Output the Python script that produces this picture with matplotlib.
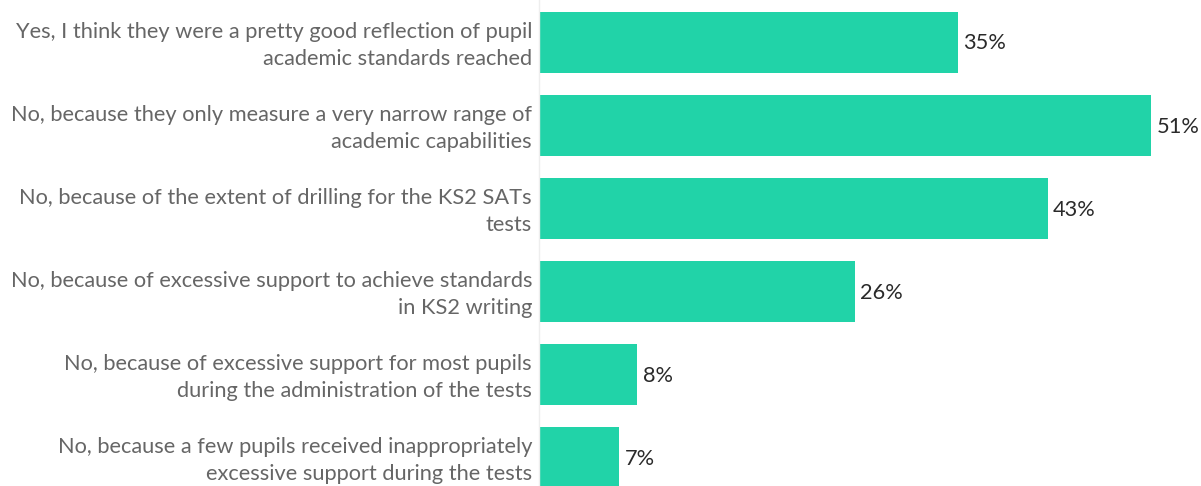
import matplotlib
matplotlib.use("Agg")
import matplotlib.pyplot as plt
from matplotlib.transforms import ScaledTranslation

categories = [
    "Yes, I think they were a pretty good reflection of pupil\nacademic standards reached",
    "No, because they only measure a very narrow range of\nacademic capabilities",
    "No, because of the extent of drilling for the KS2 SATs\ntests",
    "No, because of excessive support to achieve standards\nin KS2 writing",
    "No, because of excessive support for most pupils\nduring the administration of the tests",
    "No, because a few pupils received inappropriately\nexcessive support during the tests",
]
values = [34.9, 51.0, 42.4, 26.3, 8.2, 6.7]
value_labels = ["35%", "51%", "43%", "26%", "8%", "7%"]

W, H = 1201, 486
fig = plt.figure(figsize=(W / 100, H / 100), dpi=100)
ax = fig.add_axes([539 / W, 0, 662 / W, 1])

y = list(range(len(categories)))
ax.barh(y, values, height=0.735, color="#21D3A8", edgecolor="none")
ax.set_xlim(0, 662 / 12.0)
ax.set_ylim(5.343, -0.512)

for s in ["top", "right", "bottom"]:
    ax.spines[s].set_visible(False)
ax.spines["left"].set_color("#eeeeee")
ax.spines["left"].set_linewidth(1)
ax.set_xticks([])
ax.set_yticks(y)
ax.set_yticklabels(categories, fontfamily="Lato", fontsize=15.7, color="#666666",
                   linespacing=1.45, va="center")
ax.tick_params(axis="y", length=0, pad=5)
shift = ScaledTranslation(0, -3 / 100, fig.dpi_scale_trans)
for lbl in ax.get_yticklabels():
    lbl.set_transform(lbl.get_transform() + shift)

for yi, v, lab in zip(y, values, value_labels):
    t = ax.text(v + 0.45, yi, lab, va="center", ha="left", fontfamily="Lato",
                fontsize=15.7, color="#2a2a2a")
    t.set_transform(ax.transData + ScaledTranslation(0, -1 / 100, fig.dpi_scale_trans))

fig.savefig("out.png", dpi=100)
